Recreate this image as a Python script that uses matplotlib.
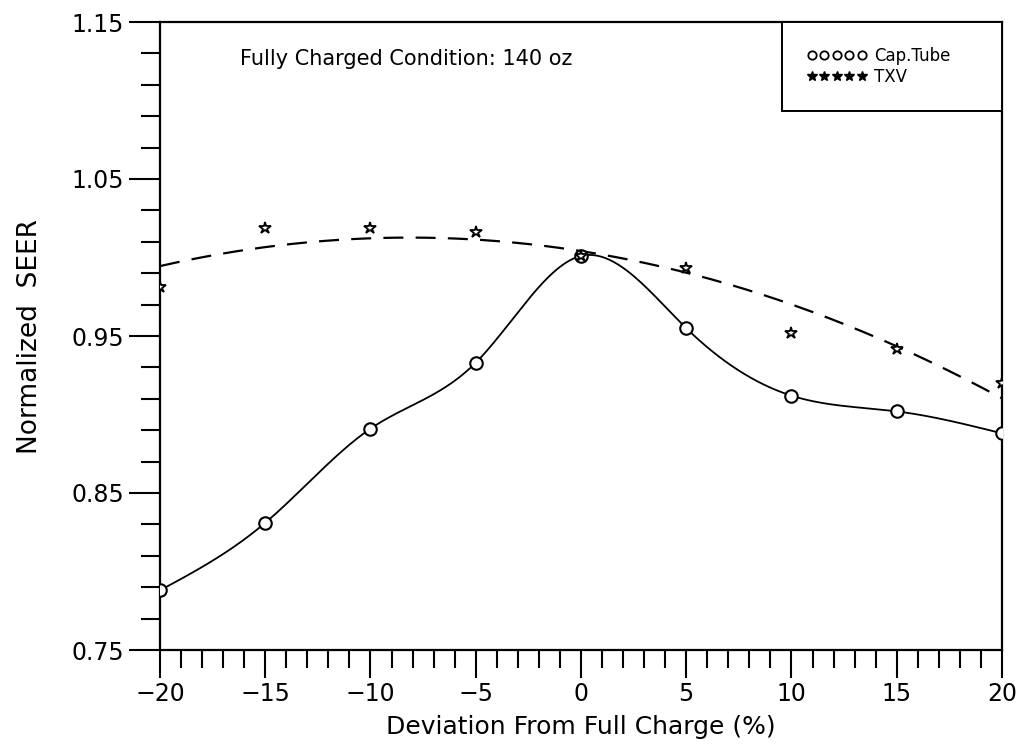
import numpy as np
import matplotlib
matplotlib.use("Agg")
import matplotlib.pyplot as plt
from matplotlib.lines import Line2D
from matplotlib.ticker import MultipleLocator, FixedLocator

# ---- data ----
deviation = [-20, -15, -10, -5, 0, 5, 10, 15, 20]
cap_tube = [0.788, 0.831, 0.891, 0.933, 1.001, 0.955, 0.912, 0.902, 0.888]
txv = [0.981, 1.019, 1.019, 1.016, 1.001, 0.993, 0.952, 0.942, 0.920]
y_ticks = [0.75, 0.85, 0.95, 1.05, 1.15]
x_ticks = [-20, -15, -10, -5, 0, 5, 10, 15, 20]
note_text = "Fully Charged Condition: 140 oz"
label_cap = "Cap.Tube"
label_txv = "TXV"


def natural_spline(x, y, xs):
    """Natural cubic spline through the points."""
    x = np.asarray(x, float)
    y = np.asarray(y, float)
    n = len(x)
    h = np.diff(x)
    d = np.diff(y) / h
    A = np.zeros((n, n))
    b = np.zeros(n)
    A[0, 0] = A[-1, -1] = 1.0
    for i in range(1, n - 1):
        A[i, i - 1] = h[i - 1]
        A[i, i] = 2 * (h[i - 1] + h[i])
        A[i, i + 1] = h[i]
        b[i] = 6 * (d[i] - d[i - 1])
    M = np.linalg.solve(A, b)
    idx = np.clip(np.searchsorted(x, xs) - 1, 0, n - 2)
    hi = h[idx]
    a = x[idx + 1] - xs
    c = xs - x[idx]
    return (M[idx] * a**3 / (6 * hi) + M[idx + 1] * c**3 / (6 * hi)
            + (y[idx] / hi - M[idx] * hi / 6) * a
            + (y[idx + 1] / hi - M[idx + 1] * hi / 6) * c)


fig = plt.figure(figsize=(10.2, 7.44), dpi=100)
ax = fig.add_axes([160 / 1020, 1 - 650 / 744, 842 / 1020, 628 / 744])

xs = np.linspace(min(deviation), max(deviation), 400)

# Cap tube: smooth curve through the measured points
ax.plot(xs, natural_spline(deviation, cap_tube, xs), color="black", lw=1.3)
ax.plot(deviation, cap_tube, ls="none", marker="o", ms=9,
        mfc="white", mec="black", mew=1.5, zorder=3)

# TXV: quadratic least-squares fit (dashed)
coef = np.polyfit(deviation, txv, 2)
ax.plot(xs, np.polyval(coef, xs), color="black", lw=1.6,
        dashes=(9, 5.5))
ax.plot(deviation, txv, ls="none", marker="*", ms=9,
        mfc="white", mec="black", mew=1.3, zorder=3)

ax.set_xlim(-20, 20)
ax.set_ylim(0.75, 1.15)
ax.xaxis.set_major_locator(FixedLocator(x_ticks))
ax.xaxis.set_minor_locator(MultipleLocator(1))
ax.yaxis.set_major_locator(FixedLocator(y_ticks))
ax.yaxis.set_minor_locator(MultipleLocator(0.02, offset=0.01))
ax.set_xticklabels([("\u2212%d" % -v) if v < 0 else str(v) for v in x_ticks])
ax.set_yticklabels(["%.2f" % v for v in y_ticks])

ax.tick_params(which="both", direction="out", width=1.5, colors="black",
               labelsize=17, top=False, right=False)
ax.tick_params(axis="y", which="major", length=22, pad=4)
ax.tick_params(axis="y", which="minor", length=14)
ax.tick_params(axis="x", which="major", length=20, pad=3)
ax.tick_params(axis="x", which="minor", length=13)
for s in ax.spines.values():
    s.set_linewidth(1.6)

ax.set_xlabel("Deviation From Full Charge (%)", fontsize=18)
ax.xaxis.set_label_coords(0.5, -0.122)
ax.xaxis.label.set_va("center")
ax.set_ylabel("Normalized  SEER", fontsize=19)
ax.yaxis.set_label_coords(-0.154, 0.5)
ax.yaxis.label.set_va("center")

ax.text((240 - 160) / 842, (650 - 59) / 628, note_text, transform=ax.transAxes,
        fontsize=15, ha="left", va="center")

handles = [
    Line2D([], [], ls="none", marker="o", ms=6, mfc="white", mec="black", mew=1.3),
    Line2D([], [], ls="none", marker="*", ms=7, mfc="black", mec="black", mew=1.0),
]
leg = ax.legend(handles, [label_cap, label_txv], loc="upper right",
                bbox_to_anchor=((782 - 160) / 842, 0, (1002 - 782) / 842, 1.0),
                mode="expand", borderaxespad=0, numpoints=5, fontsize=12,
                handlelength=3.6, handletextpad=0.4, borderpad=1.5,
                labelspacing=0.15, fancybox=False, framealpha=1,
                edgecolor="black")
leg.get_frame().set_linewidth(1.4)

fig.savefig("out.png", dpi=100, facecolor="white")
